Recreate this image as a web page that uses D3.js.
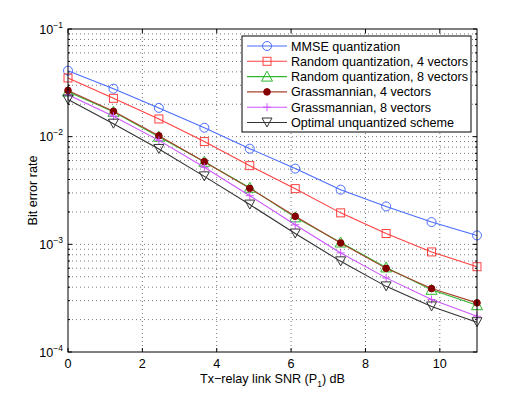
<!DOCTYPE html>
<meta charset="utf-8">
<head>
<style>
  body { margin: 0; background: #fff; }
  svg text { font-family: "Liberation Sans", Arial, sans-serif; fill: #000; }
  .grid line { stroke: #555; stroke-width: 0.8; stroke-dasharray: 1,3; }
  .curve { fill: none; stroke-width: 1.1; }
</style>
</head>
<body>
<svg width="526" height="396"></svg>
<script src="https://d3js.org/d3.v7.min.js"></script>
<script>

// SNR points (dB)
var snr = [0, 1.222, 2.444, 3.667, 4.889, 6.111, 7.333, 8.556, 9.778, 11];

// BER per scheme
var mmse    = [0.0410, 0.0279, 0.0185, 0.0121, 0.00774, 0.00505, 0.00322, 0.00225, 0.00161, 0.00121];
var rand4   = [0.0351, 0.0227, 0.0146, 0.0090, 0.00538, 0.00329, 0.00196, 0.00126, 0.00085, 0.00062];
var rand8   = [0.0262, 0.0170, 0.0100, 0.00585, 0.00335, 0.00178, 0.00104, 0.00061, 0.000378, 0.000272];
var grass4  = [0.0269, 0.0172, 0.0102, 0.00586, 0.00331, 0.00182, 0.00103, 0.000598, 0.000388, 0.000286];
var grass8  = [0.0245, 0.0155, 0.00924, 0.00519, 0.00283, 0.00152, 0.000832, 0.000488, 0.000307, 0.000215];
var optimal = [0.0221, 0.0132, 0.00769, 0.00428, 0.00234, 0.00126, 0.000695, 0.000407, 0.000265, 0.000189];

var names = ["MMSE quantization", "Random quantization, 4 vectors", "Random quantization, 8 vectors",
             "Grassmannian, 4 vectors", "Grassmannian, 8 vectors", "Optimal unquantized scheme"];

var xTicks = [0, 2, 4, 6, 8, 10];
var yDecades = [1e-4, 1e-3, 1e-2, 1e-1];

var svg = d3.select("svg");
var pL = 68, pR = 477, pT = 29, pB = 352;
var fs = 12.6;

var x = d3.scaleLinear().domain([0, 11]).range([pL, pR]);
var y = d3.scaleLog().domain([1e-4, 1e-1]).range([pB, pT]);

// minor log values
var minor = [];
[1e-4, 1e-3, 1e-2].forEach(function(d) {
  for (var k = 2; k <= 9; k++) minor.push(d * k);
});

// grid
var grid = svg.append("g").attr("class", "grid");
grid.selectAll(".gx").data(xTicks.slice(1)).enter().append("line")
  .attr("x1", function(d) { return x(d); }).attr("x2", function(d) { return x(d); })
  .attr("y1", pT).attr("y2", pB);
grid.selectAll(".gy").data(minor.concat([1e-3, 1e-2])).enter().append("line")
  .attr("x1", pL).attr("x2", pR)
  .attr("y1", function(d) { return y(d); }).attr("y2", function(d) { return y(d); });

// ticks (inside, both sides)
var ticks = svg.append("g").attr("stroke", "#000").attr("stroke-width", 1);
xTicks.forEach(function(d) {
  ticks.append("line").attr("x1", x(d)).attr("x2", x(d)).attr("y1", pB).attr("y2", pB - 4);
  ticks.append("line").attr("x1", x(d)).attr("x2", x(d)).attr("y1", pT).attr("y2", pT + 4);
});
yDecades.forEach(function(d) {
  ticks.append("line").attr("x1", pL).attr("x2", pL + 4).attr("y1", y(d)).attr("y2", y(d));
  ticks.append("line").attr("x1", pR).attr("x2", pR - 4).attr("y1", y(d)).attr("y2", y(d));
});
minor.forEach(function(d) {
  ticks.append("line").attr("x1", pL).attr("x2", pL + 2).attr("y1", y(d)).attr("y2", y(d));
  ticks.append("line").attr("x1", pR).attr("x2", pR - 2).attr("y1", y(d)).attr("y2", y(d));
});

// tick labels
svg.append("g").selectAll("text").data(xTicks).enter().append("text")
  .attr("x", function(d) { return x(d); }).attr("y", pB + 16)
  .attr("text-anchor", "middle").attr("font-size", fs)
  .text(function(d) { return d; });

var yl = svg.append("g").selectAll("text").data(yDecades).enter().append("text")
  .attr("x", pL - 5).attr("y", function(d) { return y(d) + 4.5; })
  .attr("text-anchor", "end").attr("font-size", fs);
yl.append("tspan").text("10");
yl.append("tspan").attr("dy", -6).attr("font-size", 8.5)
  .text(function(d) { return "\u2212" + Math.round(-Math.log10(d)); });

// axis labels
svg.append("text").attr("x", x(5.5)).attr("y", 383).attr("text-anchor", "middle")
  .attr("font-size", fs)
  .call(function(t) {
    t.append("tspan").text("Tx\u2212relay link SNR (P");
    t.append("tspan").attr("dy", 4).attr("font-size", 8.5).text("1");
    t.append("tspan").attr("dy", -4).text(") dB");
  });
svg.append("text").attr("transform", "translate(37," + ((pT + pB) / 2) + ") rotate(-90)")
  .attr("text-anchor", "middle").attr("font-size", fs).text("Bit error rate");

// series
var series = [
  { values: mmse,    line: "#4a6cff", marker: "circle" },
  { values: rand4,   line: "#ff4040", marker: "square" },
  { values: rand8,   line: "#2db82d", marker: "triangle" },
  { values: grass4,  line: "#a8402f", marker: "dot" },
  { values: grass8,  line: "#cc55ff", marker: "plus" },
  { values: optimal, line: "#333333", marker: "down" }
];

function drawMarker(g, type, color) {
  if (type === "circle") g.append("circle").attr("r", 4.5).attr("fill", "none").attr("stroke", color);
  if (type === "square") g.append("rect").attr("x", -4).attr("y", -4).attr("width", 8).attr("height", 8)
    .attr("fill", "none").attr("stroke", color);
  if (type === "triangle") g.append("path").attr("d", "M0,-5.5L5.5,4.5L-5.5,4.5Z").attr("fill", "none").attr("stroke", color);
  if (type === "dot") g.append("circle").attr("r", 3.3).attr("fill", "#850000").attr("stroke", "#850000");
  if (type === "plus") g.append("path").attr("d", "M-4,0H4M0,-4V4").attr("stroke", color);
  if (type === "down") g.append("path").attr("d", "M0,4.5L-5,-4.5L5,-4.5Z").attr("fill", "none").attr("stroke", color);
}

var line = d3.line().x(function(d, i) { return x(snr[i]); }).y(function(d) { return y(d); });

series.forEach(function(s) {
  svg.append("path").attr("class", "curve").attr("stroke", s.line).attr("d", line(s.values));
  s.values.forEach(function(v, i) {
    var g = svg.append("g").attr("transform", "translate(" + x(snr[i]) + "," + y(v) + ")");
    drawMarker(g, s.marker, s.marker === "dot" ? "#850000" : s.line);
  });
});

// box
svg.append("rect").attr("x", pL).attr("y", pT).attr("width", pR - pL).attr("height", pB - pT)
  .attr("fill", "none").attr("stroke", "#000");

// legend
var lg = svg.append("g").attr("transform", "translate(242,36)");
lg.append("rect").attr("width", 229).attr("height", 96).attr("fill", "#fff").attr("stroke", "#000");
series.forEach(function(s, i) {
  var row = lg.append("g").attr("transform", "translate(0," + (10 + i * 15.3) + ")");
  row.append("line").attr("x1", 5).attr("x2", 45).attr("stroke", s.line).attr("stroke-width", 1.1);
  var m = row.append("g").attr("transform", "translate(25,0)");
  drawMarker(m, s.marker, s.marker === "dot" ? "#850000" : s.line);
  row.append("text").attr("x", 49).attr("y", 4.5).attr("font-size", fs).text(names[i]);
});

</script>
</body>
